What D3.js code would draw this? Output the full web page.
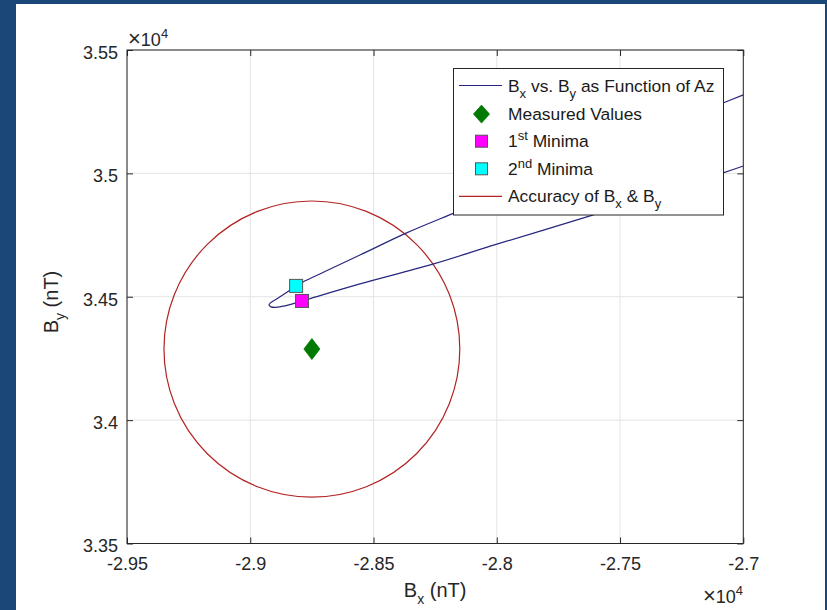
<!DOCTYPE html>
<html>
<head>
<meta charset="utf-8">
<script src="https://cdn.jsdelivr.net/npm/d3@7"></script>
<style>
  html, body { margin: 0; padding: 0; background: #1b4678; }
  svg { display: block; }
  text { font-family: "Liberation Sans", Arial, Helvetica, sans-serif; }
</style>
</head>
<body>
<svg id="chart" width="827" height="610"></svg>
<script>
// ---------------- DATA ----------------
const xTicks = [-29500, -29000, -28500, -28000, -27500, -27000];
const xTickLabels = ["-2.95", "-2.9", "-2.85", "-2.8", "-2.75", "-2.7"];
const yTicks = [33500, 34000, 34500, 35000, 35500];
const yTickLabels = ["3.35", "3.4", "3.45", "3.5", "3.55"];

// Bx vs. By as Function of Az
const curveBx = [-27000, -27082, -27338, -27622, -27906, -28174, -28368, -28555, -28697, -28786,
                 -28814, -28859, -28896, -28918, -28924, -28916, -28896, -28859, -28814, -28790,
                 -28762, -28555, -28263, -28003, -27618, -27338, -27082, -27000];
const curveBy = [35318, 35285, 35180, 35064, 34948, 34839, 34758, 34669, 34602, 34560,
                 34544, 34513, 34489, 34475, 34467, 34459, 34457, 34463, 34475, 34483,
                 34491, 34552, 34631, 34712, 34829, 34920, 35002, 35030];

const measuredBx = [-28750];
const measuredBy = [34288];
const minima1Bx = [-28790];
const minima1By = [34483];
const minima2Bx = [-28814];
const minima2By = [34544];
const accuracyCenterBx = [-28750];
const accuracyCenterBy = [34288];
const accuracyRadius = [600];

const legendLabels = ["Bx vs. By as Function of Az", "Measured Values", "1st Minima", "2nd Minima", "Accuracy of Bx & By"];

// ---------------- LAYOUT ----------------
const W = 827, H = 610;
const plot = { left: 127, right: 743.3, top: 50, bottom: 543.5 };
const colors = {
  bg: "#1b4678", axis: "#262626", grid: "#e3e3e3",
  curve: "#27277f", acc: "#b22424", measured: "#007a00",
  min1: "#ff00ff", min2: "#00ffff", markerEdge: "#555555"
};
const font = "'Liberation Sans', Arial, Helvetica, sans-serif";

const svg = d3.select("#chart");
svg.append("rect").attr("width", W).attr("height", H).attr("fill", colors.bg);
svg.append("rect").attr("x", 16).attr("y", 4).attr("width", 809).attr("height", 606).attr("fill", "#ffffff");

const x = d3.scaleLinear().domain([-29500, -27000]).range([plot.left, plot.right]);
const y = d3.scaleLinear().domain([33500, 35500]).range([plot.bottom, plot.top]);

// grid
const grid = svg.append("g");
grid.selectAll("line.gx").data(xTicks).join("line")
  .attr("x1", d => x(d)).attr("x2", d => x(d))
  .attr("y1", plot.top).attr("y2", plot.bottom)
  .attr("stroke", colors.grid).attr("stroke-width", 1);
grid.selectAll("line.gy").data(yTicks).join("line")
  .attr("y1", d => y(d)).attr("y2", d => y(d))
  .attr("x1", plot.left).attr("x2", plot.right)
  .attr("stroke", colors.grid).attr("stroke-width", 1);

// clip
svg.append("clipPath").attr("id", "clip").append("rect")
  .attr("x", plot.left).attr("y", plot.top)
  .attr("width", plot.right - plot.left).attr("height", plot.bottom - plot.top);

const dataG = svg.append("g").attr("clip-path", "url(#clip)");

// accuracy circle
dataG.selectAll("ellipse.acc").data(accuracyRadius).join("ellipse")
  .attr("cx", (d, i) => x(accuracyCenterBx[i]))
  .attr("cy", (d, i) => y(accuracyCenterBy[i]))
  .attr("rx", (d, i) => x(accuracyCenterBx[i] + d) - x(accuracyCenterBx[i]))
  .attr("ry", (d, i) => y(accuracyCenterBy[i]) - y(accuracyCenterBy[i] + d))
  .attr("fill", "none").attr("stroke", colors.acc).attr("stroke-width", 1.2);

// curve
const curvePts = curveBx.map((b, i) => [b, curveBy[i]]);
const line = d3.line().x(d => x(d[0])).y(d => y(d[1])).curve(d3.curveCatmullRom.alpha(0.5));
dataG.append("path").datum(curvePts).attr("d", line)
  .attr("fill", "none").attr("stroke", colors.curve).attr("stroke-width", 1.2);

// markers
const diamond = (cx, cy, w, h) => `M${cx},${cy - h / 2}L${cx + w / 2},${cy}L${cx},${cy + h / 2}L${cx - w / 2},${cy}Z`;
dataG.selectAll("path.meas").data(measuredBx).join("path")
  .attr("d", (d, i) => diamond(x(d), y(measuredBy[i]), 16, 21))
  .attr("fill", colors.measured).attr("stroke", colors.measured).attr("stroke-width", 0.8);
dataG.selectAll("rect.m2").data(minima2Bx).join("rect")
  .attr("x", (d) => x(d) - 6.5).attr("y", (d, i) => y(minima2By[i]) - 6.5)
  .attr("width", 13).attr("height", 13)
  .attr("fill", colors.min2).attr("stroke", colors.markerEdge).attr("stroke-width", 1);
dataG.selectAll("rect.m1").data(minima1Bx).join("rect")
  .attr("x", (d) => x(d) - 6.5).attr("y", (d, i) => y(minima1By[i]) - 6.5)
  .attr("width", 13).attr("height", 13)
  .attr("fill", colors.min1).attr("stroke", colors.markerEdge).attr("stroke-width", 1);

// axes
function styleAxis(g) {
  g.select(".domain").remove();
  g.selectAll(".tick line").attr("stroke", colors.axis).attr("stroke-width", 1);
  g.selectAll(".tick text").attr("fill", colors.axis).style("font-family", font).style("font-size", "18px");
}
svg.append("g").attr("transform", `translate(0,${plot.bottom})`)
  .call(d3.axisBottom(x).tickValues(xTicks).tickFormat((d, i) => xTickLabels[i]).tickSizeInner(-6).tickSizeOuter(0).tickPadding(13.5))
  .call(styleAxis);
svg.append("g").attr("transform", `translate(0,${plot.top})`)
  .call(d3.axisTop(x).tickValues(xTicks).tickFormat("").tickSizeInner(-6).tickSizeOuter(0))
  .call(styleAxis);
const yAx = svg.append("g").attr("transform", `translate(${plot.left},0)`)
  .call(d3.axisLeft(y).tickValues(yTicks).tickFormat((d, i) => yTickLabels[i]).tickSizeInner(-6).tickSizeOuter(0).tickPadding(9))
  .call(styleAxis);
yAx.selectAll(".tick text").attr("dy", "0.46em");
svg.append("g").attr("transform", `translate(${plot.right},0)`)
  .call(d3.axisRight(y).tickValues(yTicks).tickFormat("").tickSizeInner(-6).tickSizeOuter(0))
  .call(styleAxis);

// box
svg.append("rect").attr("x", plot.left).attr("y", plot.top)
  .attr("width", plot.right - plot.left).attr("height", plot.bottom - plot.top)
  .attr("fill", "none").attr("stroke", colors.axis).attr("stroke-width", 1);

// exponent labels
const e1 = svg.append("text").attr("x", 128).attr("y", 46).attr("fill", colors.axis)
  .style("font-size", "18px");
e1.append("tspan").style("font-size", "22px").style("font-weight", "300").text("×");
e1.append("tspan").text("10");
e1.append("tspan").attr("dy", -8).style("font-size", "13px").text("4");
const e2 = svg.append("text").attr("x", 743).attr("y", 603).attr("text-anchor", "end").attr("fill", colors.axis)
  .style("font-size", "18px");
e2.append("tspan").style("font-size", "22px").style("font-weight", "300").text("×");
e2.append("tspan").text("10");
e2.append("tspan").attr("dy", -8).style("font-size", "13px").text("4");

// axis labels
const xl = svg.append("text").attr("x", (plot.left + plot.right) / 2).attr("y", 597)
  .attr("text-anchor", "middle").attr("fill", colors.axis).style("font-size", "20px");
xl.append("tspan").text("B");
xl.append("tspan").attr("dy", 7).style("font-size", "14px").text("x");
xl.append("tspan").attr("dy", -7).text(" (nT)");

const yl = svg.append("text").attr("transform", `translate(58,302) rotate(-90)`)
  .attr("text-anchor", "middle").attr("fill", colors.axis).style("font-size", "20px");
yl.append("tspan").text("B");
yl.append("tspan").attr("dy", 7).style("font-size", "14px").text("y");
yl.append("tspan").attr("dy", -7).text(" (nT)");

// legend
const lg = svg.append("g");
lg.append("rect").attr("x", 453.5).attr("y", 68.5).attr("width", 270).attr("height", 146.5)
  .attr("fill", "#ffffff").attr("stroke", colors.axis).attr("stroke-width", 1);
const rowBase = [92, 119.6, 147.2, 174.8, 202.4];
const tx = 508, mx = 481.5;
const subFs = "13px", legFs = "17.4px";

function addText(i, parts) {
  const t = lg.append("text").attr("x", tx).attr("y", rowBase[i]).attr("fill", "#1a1a1a").style("font-size", legFs);
  parts.forEach(p => {
    const ts = t.append("tspan").text(p.t);
    if (p.dy) ts.attr("dy", p.dy);
    if (p.fs) ts.style("font-size", p.fs);
  });
}
// row 0: curve
lg.append("line").attr("x1", 459).attr("x2", 502).attr("y1", rowBase[0] - 6.5).attr("y2", rowBase[0] - 6.5)
  .attr("stroke", colors.curve).attr("stroke-width", 1.2);
addText(0, [{ t: "B" }, { t: "x", dy: 6, fs: subFs }, { t: " vs. B", dy: -6 }, { t: "y", dy: 6, fs: subFs }, { t: " as Function of Az", dy: -6 }]);
// row 1: measured
lg.append("path").attr("d", diamond(mx, rowBase[1] - 5.5, 16, 18))
  .attr("fill", colors.measured).attr("stroke", colors.measured).attr("stroke-width", 0.8);
addText(1, [{ t: legendLabels[1] }]);
// row 2: 1st minima
lg.append("rect").attr("x", mx - 6).attr("y", rowBase[2] - 6 - 6).attr("width", 12).attr("height", 12)
  .attr("fill", colors.min1).attr("stroke", colors.markerEdge).attr("stroke-width", 1);
addText(2, [{ t: "1" }, { t: "st", dy: -7, fs: subFs }, { t: " Minima", dy: 7 }]);
// row 3: 2nd minima
lg.append("rect").attr("x", mx - 6).attr("y", rowBase[3] - 6 - 6).attr("width", 12).attr("height", 12)
  .attr("fill", colors.min2).attr("stroke", colors.markerEdge).attr("stroke-width", 1);
addText(3, [{ t: "2" }, { t: "nd", dy: -7, fs: subFs }, { t: " Minima", dy: 7 }]);
// row 4: accuracy
lg.append("line").attr("x1", 459).attr("x2", 502).attr("y1", rowBase[4] - 6).attr("y2", rowBase[4] - 6)
  .attr("stroke", colors.acc).attr("stroke-width", 1.2);
addText(4, [{ t: "Accuracy of B" }, { t: "x", dy: 6, fs: subFs }, { t: " & B", dy: -6 }, { t: "y", dy: 6, fs: subFs }]);
</script>
</body>
</html>
